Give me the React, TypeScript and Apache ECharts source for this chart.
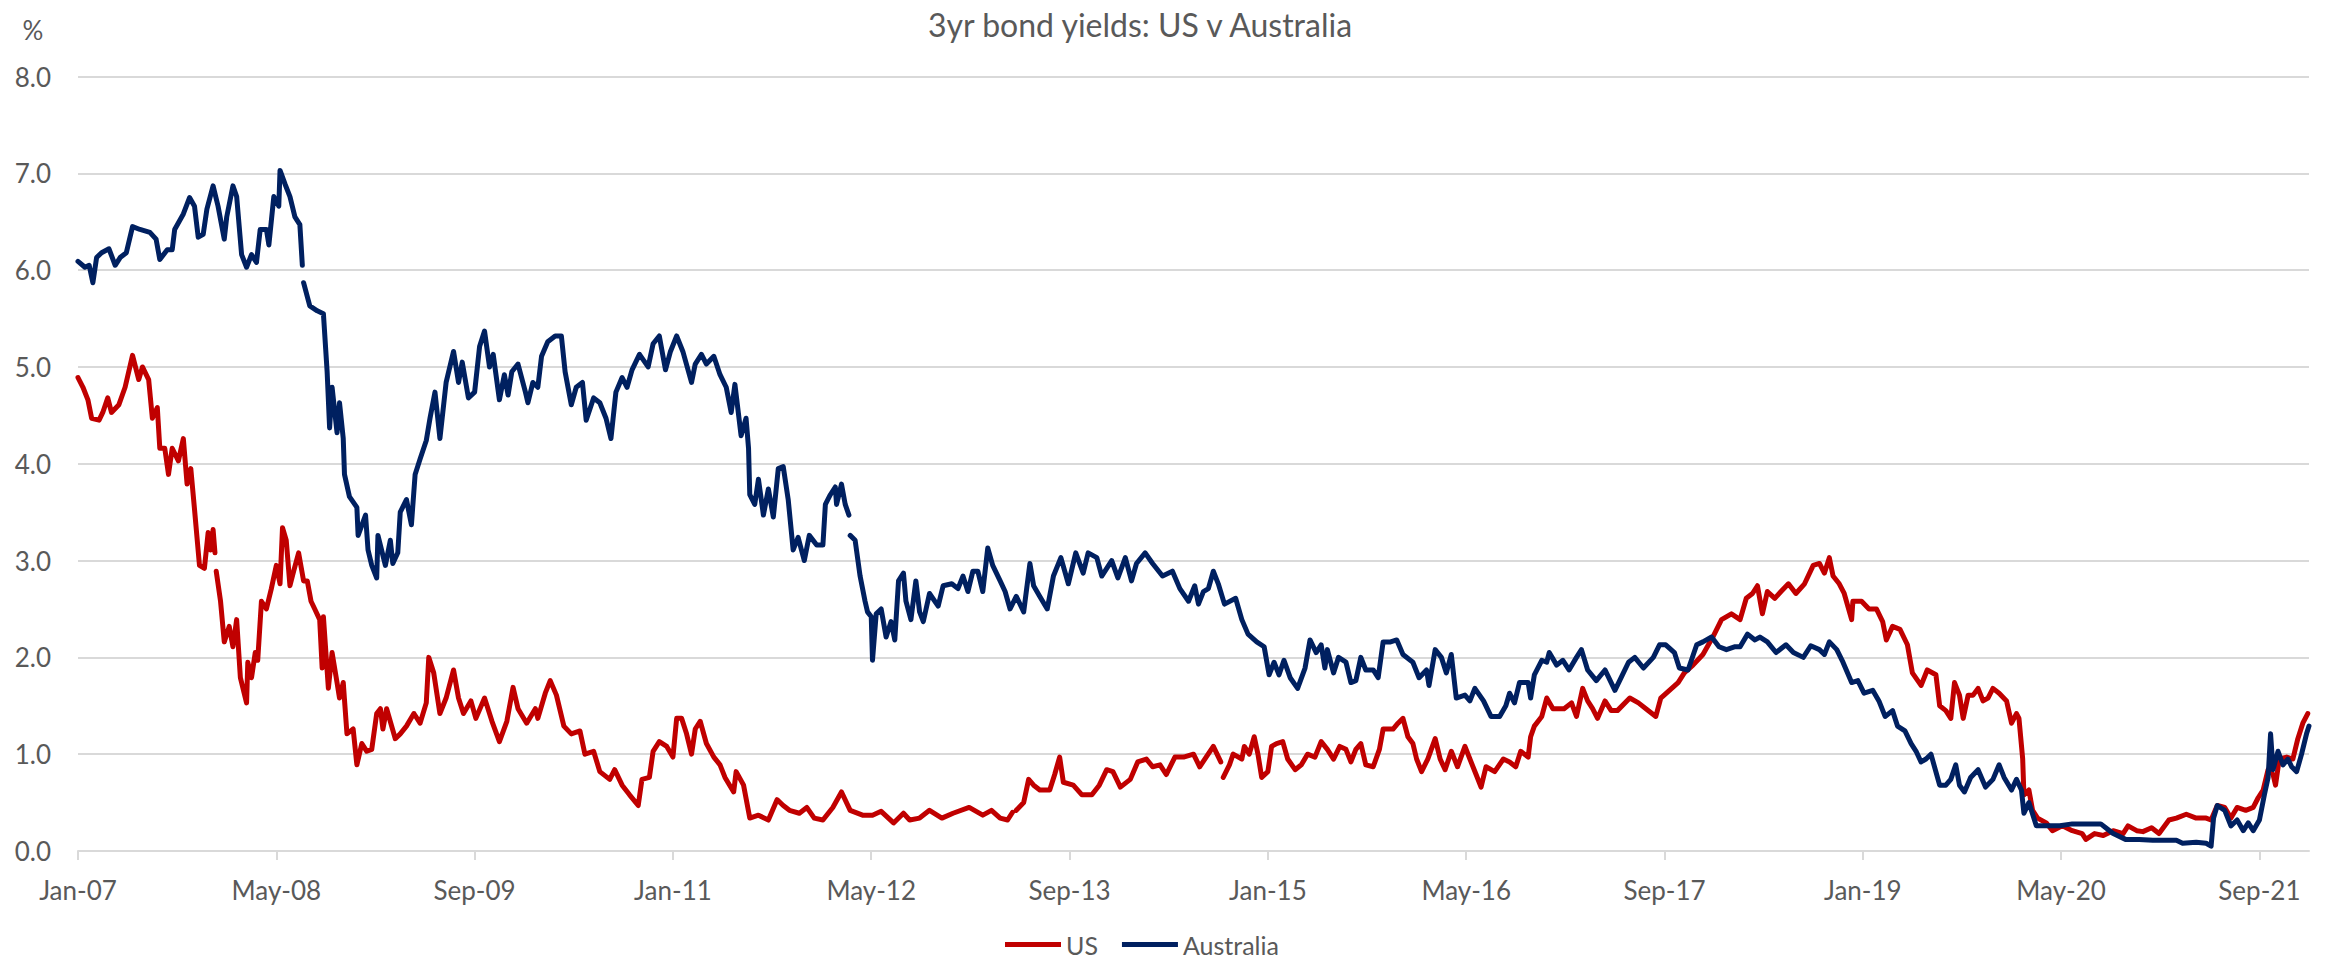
import React, { useEffect, useRef } from "react";
import * as echarts from "echarts";

// x values are months elapsed since Jan 2007
const START_YEAR = 2007;
const MONTH_NAMES = ["Jan", "Feb", "Mar", "Apr", "May", "Jun", "Jul", "Aug", "Sep", "Oct", "Nov", "Dec"];
const xTickMonths = [0, 16, 32, 48, 64, 80, 96, 112, 128, 144, 160, 176];
const yTicks = [0, 1, 2, 3, 4, 5, 6, 7, 8];

const TITLE = "3yr bond yields: US v Australia";
const UNIT = "%";
const SERIES_NAMES = ["US", "Australia"];

// US 3yr yield (%), [month, value]; "-" marks a data gap
const usData: [number, number | string][] = [
  [0, 4.89], [0.4, 4.79], [0.8, 4.66], [1.1, 4.47], [1.7, 4.45], [2.0, 4.53], [2.4, 4.68], [2.7, 4.53], [3.3, 4.61], [3.8, 4.79],
  [4.4, 5.12], [4.9, 4.87], [5.2, 5.0], [5.7, 4.87], [6.0, 4.47], [6.4, 4.58], [6.6, 4.16], [7.0, 4.16], [7.3, 3.89], [7.6, 4.16],
  [8.1, 4.03], [8.5, 4.26], [8.8, 3.79], [9.1, 3.95], [9.4, 3.53], [9.8, 2.95], [10.2, 2.92], [10.5, 3.29], [10.7, 3.11], [10.9, 3.32],
  [11.05, 3.08], [11.1, "-"], [11.15, 2.89], [11.5, 2.58], [11.8, 2.16], [12.2, 2.32], [12.5, 2.11], [12.8, 2.39], [13.1, 1.79], [13.6, 1.53],
  [13.7, 1.95], [14.0, 1.79], [14.3, 2.05], [14.5, 1.97], [14.8, 2.58], [15.2, 2.5], [15.6, 2.71], [16.0, 2.95], [16.3, 2.76], [16.5, 3.34],
  [16.8, 3.21], [17.1, 2.74], [17.4, 2.89], [17.8, 3.08], [18.2, 2.79], [18.5, 2.79], [18.8, 2.58], [19.1, 2.5], [19.5, 2.39], [19.7, 1.89],
  [19.8, 2.42], [20.2, 1.68], [20.5, 2.05], [20.9, 1.74], [21.1, 1.58], [21.4, 1.74], [21.7, 1.21], [22.2, 1.26], [22.5, 0.89], [22.9, 1.11],
  [23.3, 1.03], [23.7, 1.05], [24.1, 1.42], [24.4, 1.47], [24.6, 1.26], [24.9, 1.47], [25.6, 1.16], [26.0, 1.21], [26.5, 1.29], [27.1, 1.42],
  [27.6, 1.32], [28.1, 1.53], [28.3, 2.0], [28.7, 1.84], [29.2, 1.42], [29.7, 1.58], [30.3, 1.87], [30.7, 1.58], [31.1, 1.42], [31.7, 1.55],
  [32.1, 1.37], [32.8, 1.58], [33.4, 1.34], [34.0, 1.13], [34.6, 1.34], [35.1, 1.69], [35.5, 1.47], [36.2, 1.32], [36.9, 1.47], [37.1, 1.37],
  [37.7, 1.63], [38.1, 1.76], [38.6, 1.61], [39.2, 1.29], [39.8, 1.21], [40.5, 1.24], [40.9, 1.0], [41.6, 1.03], [42.1, 0.82], [42.9, 0.74],
  [43.3, 0.84], [43.9, 0.68], [44.5, 0.58], [45.2, 0.47], [45.5, 0.74], [46.1, 0.76], [46.4, 1.03], [46.9, 1.13], [47.5, 1.08], [48.0, 0.97],
  [48.3, 1.37], [48.7, 1.37], [49.1, 1.21], [49.5, 1.0], [49.8, 1.26], [50.2, 1.34], [50.7, 1.11], [51.3, 0.97], [51.8, 0.89], [52.2, 0.76],
  [52.9, 0.61], [53.1, 0.82], [53.7, 0.68], [54.2, 0.34], [54.9, 0.37], [55.7, 0.32], [56.4, 0.53], [56.9, 0.47], [57.4, 0.42], [58.2, 0.39],
  [58.8, 0.45], [59.4, 0.34], [60.1, 0.32], [60.9, 0.45], [61.6, 0.61], [62.3, 0.42], [63.3, 0.37], [64.1, 0.37], [64.8, 0.41], [65.8, 0.29],
  [66.6, 0.39], [67.1, 0.32], [67.9, 0.34], [68.7, 0.42], [69.7, 0.34], [70.6, 0.39], [71.9, 0.45], [73.0, 0.37], [73.7, 0.42], [74.4, 0.34],
  [75.0, 0.32], [75.4, 0.4], [75.5, "-"], [75.7, 0.42], [76.3, 0.5], [76.7, 0.74], [77.1, 0.68], [77.6, 0.63], [78.4, 0.63], [78.8, 0.79],
  [79.2, 0.97], [79.5, 0.71], [80.3, 0.68], [81.0, 0.58], [81.8, 0.58], [82.4, 0.68], [83.0, 0.84], [83.5, 0.82], [84.1, 0.66], [84.9, 0.74],
  [85.5, 0.92], [86.2, 0.95], [86.7, 0.87], [87.3, 0.89], [87.8, 0.79], [88.5, 0.97], [89.2, 0.97], [90.0, 1.0], [90.5, 0.87], [91.6, 1.08],
  [92.2, 0.92], [92.3, "-"], [92.4, 0.76], [92.9, 0.89], [93.2, 1.0], [93.9, 0.95], [94.1, 1.08], [94.5, 1.0], [94.9, 1.18], [95.2, 1.0],
  [95.5, 0.76], [96.0, 0.82], [96.3, 1.08], [96.7, 1.11], [97.2, 1.13], [97.6, 0.95], [98.2, 0.84], [98.7, 0.89], [99.2, 1.0], [99.8, 0.97],
  [100.3, 1.13], [100.8, 1.05], [101.3, 0.95], [101.8, 1.08], [102.3, 1.05], [102.7, 0.92], [103.1, 1.05], [103.5, 1.11], [103.9, 0.89], [104.5, 0.87],
  [105.0, 1.05], [105.3, 1.26], [106.1, 1.26], [106.5, 1.32], [106.9, 1.37], [107.3, 1.18], [107.7, 1.11], [108.0, 0.95], [108.4, 0.82], [108.9, 0.95],
  [109.5, 1.16], [109.9, 0.95], [110.3, 0.84], [110.8, 1.03], [111.3, 0.87], [111.9, 1.08], [112.3, 0.95], [112.8, 0.79], [113.2, 0.66], [113.6, 0.87],
  [114.3, 0.82], [115.0, 0.95], [115.5, 0.92], [116.0, 0.87], [116.4, 1.03], [117.0, 0.97], [117.2, 1.18], [117.5, 1.29], [118.1, 1.39], [118.5, 1.58],
  [119.0, 1.47], [119.9, 1.47], [120.5, 1.53], [120.9, 1.39], [121.4, 1.68], [121.8, 1.55], [122.2, 1.47], [122.6, 1.37], [123.2, 1.55], [123.7, 1.45],
  [124.2, 1.45], [125.2, 1.58], [125.9, 1.53], [126.5, 1.47], [127.3, 1.39], [127.7, 1.58], [128.4, 1.66], [129.1, 1.74], [129.6, 1.84], [130.3, 1.92],
  [131.1, 2.03], [131.9, 2.21], [132.6, 2.39], [133.4, 2.45], [134.1, 2.39], [134.6, 2.61], [135.1, 2.66], [135.5, 2.74], [135.9, 2.45], [136.3, 2.68],
  [136.9, 2.61], [137.4, 2.68], [138.0, 2.76], [138.6, 2.66], [139.3, 2.76], [140.0, 2.95], [140.5, 2.97], [140.9, 2.87], [141.3, 3.03], [141.6, 2.84],
  [142.1, 2.76], [142.5, 2.66], [143.1, 2.39], [143.2, 2.58], [143.9, 2.58], [144.5, 2.5], [145.1, 2.5], [145.6, 2.37], [145.9, 2.18], [146.4, 2.32],
  [147.0, 2.29], [147.6, 2.13], [148.0, 1.84], [148.7, 1.71], [149.2, 1.87], [149.9, 1.82], [150.2, 1.5], [150.7, 1.45], [151.1, 1.37], [151.4, 1.74],
  [151.8, 1.61], [152.1, 1.37], [152.5, 1.61], [152.9, 1.61], [153.3, 1.68], [153.7, 1.55], [154.1, 1.58], [154.5, 1.68], [155.0, 1.63], [155.6, 1.55],
  [156.0, 1.32], [156.4, 1.42], [156.6, 1.37], [156.9, 0.95], [157.0, 0.58], [157.4, 0.63], [157.7, 0.42], [158.1, 0.34], [158.8, 0.29], [159.3, 0.21],
  [160.1, 0.26], [160.9, 0.21], [161.7, 0.18], [162.0, 0.12], [162.7, 0.18], [163.4, 0.16], [164.2, 0.21], [165.0, 0.18], [165.4, 0.26], [166.1, 0.21],
  [166.6, 0.2], [167.3, 0.24], [167.9, 0.18], [168.7, 0.32], [169.3, 0.34], [170.1, 0.38], [170.9, 0.34], [171.7, 0.34], [172.1, 0.32], [172.6, 0.47],
  [173.2, 0.45], [173.7, 0.34], [174.2, 0.45], [174.9, 0.42], [175.5, 0.45], [175.9, 0.55], [176.3, 0.63], [176.7, 0.84], [177.1, 0.79], [177.3, 0.68],
  [177.6, 0.95], [178.2, 0.97], [178.7, 0.95], [179.1, 1.16], [179.5, 1.32], [179.9, 1.42],
];

// Australia 3yr yield (%), [month, value]; "-" marks a data gap
const ausData: [number, number | string][] = [
  [0, 6.09], [0.56, 6.03], [0.9, 6.05], [1.2, 5.87], [1.5, 6.13], [1.9, 6.18], [2.5, 6.22], [3.0, 6.05], [3.4, 6.13], [3.9, 6.18],
  [4.4, 6.45], [5.0, 6.42], [5.8, 6.39], [6.3, 6.32], [6.6, 6.11], [7.2, 6.21], [7.6, 6.21], [7.8, 6.42], [8.5, 6.58], [9.0, 6.75],
  [9.4, 6.66], [9.7, 6.34], [10.1, 6.37], [10.4, 6.63], [10.9, 6.87], [11.3, 6.66], [11.8, 6.32], [12.0, 6.55], [12.5, 6.87], [12.8, 6.76],
  [13.2, 6.16], [13.6, 6.03], [14.0, 6.16], [14.4, 6.08], [14.7, 6.42], [15.2, 6.42], [15.4, 6.26], [15.8, 6.76], [16.2, 6.66], [16.3, 7.03],
  [16.7, 6.89], [17.1, 6.76], [17.5, 6.55], [17.9, 6.47], [18.1, 6.05], [18.15, "-"], [18.2, 5.87], [18.7, 5.63], [19.3, 5.58], [19.8, 5.55],
  [20.1, 4.95], [20.3, 4.37], [20.5, 4.79], [20.9, 4.32], [21.1, 4.63], [21.4, 4.26], [21.5, 3.89], [21.9, 3.66], [22.5, 3.55], [22.6, 3.26],
  [23.2, 3.47], [23.4, 3.11], [23.7, 2.95], [24.1, 2.82], [24.2, 3.26], [24.8, 2.95], [25.2, 3.21], [25.4, 2.97], [25.8, 3.08], [26.0, 3.5],
  [26.5, 3.63], [26.9, 3.37], [27.2, 3.89], [27.6, 4.05], [28.1, 4.24], [28.4, 4.47], [28.8, 4.74], [29.2, 4.26], [29.7, 4.84], [30.3, 5.16],
  [30.7, 4.84], [31.0, 5.05], [31.5, 4.68], [32.0, 4.74], [32.4, 5.21], [32.8, 5.37], [33.2, 5.0], [33.5, 5.13], [34.0, 4.66], [34.4, 4.92],
  [34.7, 4.71], [35.0, 4.95], [35.5, 5.03], [36.1, 4.74], [36.3, 4.63], [36.7, 4.84], [37.1, 4.79], [37.4, 5.11], [37.9, 5.26], [38.5, 5.32],
  [39.0, 5.32], [39.3, 4.95], [39.8, 4.61], [40.2, 4.79], [40.7, 4.84], [41.0, 4.45], [41.6, 4.68], [42.1, 4.63], [42.6, 4.47], [43.0, 4.26],
  [43.4, 4.74], [43.9, 4.89], [44.3, 4.79], [44.7, 4.97], [45.3, 5.13], [46.0, 5.0], [46.4, 5.24], [46.9, 5.32], [47.4, 4.97], [47.8, 5.16],
  [48.3, 5.32], [48.8, 5.16], [49.5, 4.84], [49.8, 5.03], [50.3, 5.13], [50.7, 5.03], [51.3, 5.11], [51.8, 4.92], [52.3, 4.79], [52.7, 4.53],
  [53.0, 4.82], [53.5, 4.29], [53.9, 4.47], [54.1, 4.16], [54.2, 3.68], [54.6, 3.58], [54.9, 3.84], [55.3, 3.47], [55.7, 3.74], [56.1, 3.45],
  [56.5, 3.95], [56.9, 3.97], [57.3, 3.63], [57.7, 3.11], [58.1, 3.24], [58.6, 3.0], [59.0, 3.26], [59.6, 3.16], [60.1, 3.16], [60.3, 3.58],
  [60.7, 3.68], [61.1, 3.76], [61.2, 3.58], [61.6, 3.79], [61.9, 3.58], [62.2, 3.47], [62.25, "-"], [62.3, 3.26], [62.7, 3.21], [63.1, 2.84],
  [63.5, 2.58], [63.7, 2.47], [64.0, 2.42], [64.1, 1.97], [64.4, 2.45], [64.8, 2.5], [65.2, 2.21], [65.6, 2.37], [65.9, 2.18], [66.2, 2.79],
  [66.6, 2.87], [66.8, 2.58], [67.2, 2.39], [67.6, 2.79], [67.9, 2.47], [68.2, 2.37], [68.7, 2.66], [69.4, 2.53], [69.8, 2.74], [70.5, 2.76],
  [71.0, 2.71], [71.4, 2.84], [71.8, 2.68], [72.2, 2.89], [72.6, 2.89], [73.0, 2.68], [73.4, 3.13], [73.8, 2.95], [74.4, 2.79], [74.8, 2.68],
  [75.2, 2.5], [75.7, 2.63], [76.3, 2.47], [76.8, 2.97], [77.1, 2.74], [77.6, 2.63], [78.2, 2.5], [78.7, 2.84], [79.3, 3.03], [79.9, 2.76],
  [80.5, 3.08], [81.1, 2.87], [81.5, 3.08], [82.2, 3.03], [82.6, 2.84], [83.4, 3.0], [83.9, 2.82], [84.5, 3.03], [85.0, 2.79], [85.4, 2.97],
  [86.1, 3.08], [86.7, 2.97], [87.5, 2.84], [88.3, 2.89], [88.9, 2.71], [89.6, 2.58], [90.1, 2.74], [90.4, 2.55], [90.8, 2.68], [91.2, 2.71],
  [91.6, 2.89], [92.0, 2.76], [92.5, 2.55], [93.4, 2.61], [93.9, 2.39], [94.4, 2.24], [95.1, 2.16], [95.7, 2.11], [96.1, 1.82], [96.5, 1.95],
  [96.9, 1.82], [97.3, 1.97], [97.8, 1.79], [98.4, 1.68], [99.0, 1.89], [99.4, 2.18], [99.9, 2.05], [100.3, 2.13], [100.6, 1.89], [100.8, 2.08],
  [101.3, 1.84], [101.7, 2.0], [102.3, 1.95], [102.7, 1.74], [103.1, 1.76], [103.5, 2.0], [103.9, 1.87], [104.5, 1.87], [104.9, 1.79], [105.3, 2.16],
  [105.9, 2.16], [106.4, 2.18], [106.9, 2.03], [107.7, 1.95], [108.2, 1.79], [108.8, 1.87], [109.0, 1.71], [109.5, 2.08], [110.0, 2.0], [110.4, 1.84],
  [110.8, 2.03], [111.2, 1.58], [111.9, 1.61], [112.3, 1.55], [112.7, 1.68], [113.4, 1.55], [114.0, 1.39], [114.7, 1.39], [115.2, 1.5], [115.5, 1.63],
  [115.9, 1.53], [116.3, 1.74], [117.0, 1.74], [117.2, 1.58], [117.5, 1.82], [118.1, 1.97], [118.5, 1.95], [118.7, 2.05], [119.3, 1.92], [119.8, 1.97],
  [120.3, 1.87], [120.9, 2.0], [121.3, 2.08], [121.8, 1.87], [122.5, 1.76], [123.2, 1.87], [124.0, 1.66], [124.5, 1.79], [125.1, 1.95], [125.6, 2.0],
  [126.3, 1.89], [127.1, 2.0], [127.6, 2.13], [128.1, 2.13], [128.8, 2.05], [129.2, 1.89], [129.9, 1.87], [130.6, 2.13], [131.1, 2.16], [131.8, 2.21],
  [132.4, 2.11], [133.0, 2.08], [133.7, 2.11], [134.1, 2.11], [134.7, 2.24], [135.3, 2.18], [135.7, 2.21], [136.3, 2.16], [137.0, 2.05], [137.8, 2.13],
  [138.4, 2.05], [139.2, 2.0], [139.8, 2.12], [140.5, 2.08], [140.9, 2.03], [141.3, 2.16], [141.9, 2.08], [142.4, 1.95], [143.1, 1.74], [143.6, 1.76],
  [144.1, 1.63], [144.8, 1.66], [145.3, 1.55], [145.8, 1.39], [146.4, 1.45], [146.8, 1.29], [147.4, 1.24], [147.9, 1.11], [148.3, 1.03], [148.7, 0.92],
  [149.1, 0.95], [149.5, 1.0], [150.2, 0.68], [150.7, 0.68], [151.1, 0.74], [151.5, 0.89], [151.8, 0.68], [152.2, 0.61], [152.7, 0.76], [153.3, 0.84],
  [153.9, 0.66], [154.5, 0.74], [155.0, 0.89], [155.4, 0.76], [156.0, 0.63], [156.4, 0.74], [156.8, 0.63], [157.0, 0.39], [157.4, 0.5], [158.0, 0.26],
  [158.8, 0.26], [159.9, 0.26], [160.9, 0.28], [162.0, 0.28], [163.2, 0.28], [163.6, 0.24], [164.2, 0.18], [165.2, 0.12], [166.3, 0.12], [167.4, 0.11],
  [168.5, 0.11], [169.3, 0.11], [169.8, 0.08], [170.9, 0.09], [171.7, 0.08], [172.1, 0.05], [172.3, 0.34], [172.6, 0.47], [173.2, 0.42], [173.7, 0.26],
  [174.2, 0.32], [174.7, 0.21], [175.1, 0.29], [175.5, 0.21], [176.0, 0.32], [176.4, 0.58], [176.7, 0.76], [176.9, 1.21], [177.1, 0.84], [177.5, 1.03],
  [177.9, 0.89], [178.3, 0.95], [178.6, 0.87], [179.0, 0.82], [179.4, 1.0], [179.8, 1.21], [180.0, 1.29],
];

const TEXT_COLOR = "#595959";
const GRID_COLOR = "#D9D9D9";
const US_COLOR = "#C00000";
const AUS_COLOR = "#002060";
const FONT = "Lato";

function monthLabel(m: number): string {
  const year = START_YEAR + Math.floor(m / 12);
  const mon = MONTH_NAMES[((m % 12) + 12) % 12];
  return `${mon}-${String(year % 100).padStart(2, "0")}`;
}

export default function App() {
  const ref = useRef<HTMLDivElement>(null);

  useEffect(() => {
    if (!ref.current) return;
    const chart = echarts.init(ref.current, undefined, { renderer: "svg" });
    const option: any = {
      animation: false,
      backgroundColor: "#ffffff",
      textStyle: { fontFamily: FONT },
      grid: {
        left: 78,
        right: 17,
        top: 76.5,
        bottom: 110,
        containLabel: false,
        outerBoundsMode: "none",
      },
      xAxis: {
        type: "value",
        min: 0,
        max: 180,
        interval: 16,
        axisLine: { show: true, lineStyle: { color: GRID_COLOR, width: 2 } },
        axisTick: {
          show: true,
          length: 9,
          lineStyle: { color: GRID_COLOR, width: 2 },
          customValues: xTickMonths,
        },
        axisLabel: {
          customValues: xTickMonths,
          color: TEXT_COLOR,
          fontFamily: FONT,
          fontSize: 26,
          margin: 26,
          formatter: (v: number) => (xTickMonths.includes(v) ? monthLabel(v) : ""),
        },
        splitLine: { show: false },
      },
      yAxis: {
        type: "value",
        min: yTicks[0],
        max: yTicks[yTicks.length - 1],
        interval: 1,
        axisLine: { show: false },
        axisTick: { show: false },
        axisLabel: {
          color: TEXT_COLOR,
          fontFamily: FONT,
          fontSize: 26,
          margin: 27,
          formatter: (v: number) => v.toFixed(1),
        },
        splitLine: { show: true, lineStyle: { color: GRID_COLOR, width: 2 } },
      },
      legend: {
        data: SERIES_NAMES,
        left: 1005,
        top: 932,
        padding: 0,
        itemGap: 24,
        itemWidth: 56,
        itemHeight: 5,
        icon: "rect",
        textStyle: { color: TEXT_COLOR, fontFamily: FONT, fontSize: 25, lineHeight: 24 },
      },
      graphic: [
        {
          type: "text",
          x: 1140,
          y: 24,
          style: {
            text: TITLE,
            fill: TEXT_COLOR,
            fontFamily: FONT,
            fontSize: 32,
            align: "center",
            verticalAlign: "middle",
          },
        },
        {
          type: "text",
          x: 33,
          y: 30,
          style: {
            text: UNIT,
            fill: TEXT_COLOR,
            fontFamily: FONT,
            fontSize: 26,
            align: "center",
            verticalAlign: "middle",
          },
        },
      ],
      series: [
        {
          name: SERIES_NAMES[0],
          type: "line",
          data: usData,
          showSymbol: false,
          symbol: "none",
          connectNulls: false,
          itemStyle: { color: US_COLOR },
          lineStyle: { color: US_COLOR, width: 5, cap: "round", join: "round" },
        },
        {
          name: SERIES_NAMES[1],
          type: "line",
          data: ausData,
          showSymbol: false,
          symbol: "none",
          connectNulls: false,
          itemStyle: { color: AUS_COLOR },
          lineStyle: { color: AUS_COLOR, width: 5, cap: "round", join: "round" },
        },
      ],
    };
    chart.setOption(option);
    return () => chart.dispose();
  }, []);

  return (
    <div
      ref={ref}
      style={{ position: "fixed", left: 0, top: 0, width: 2326, height: 961, background: "#fff" }}
    />
  );
}
